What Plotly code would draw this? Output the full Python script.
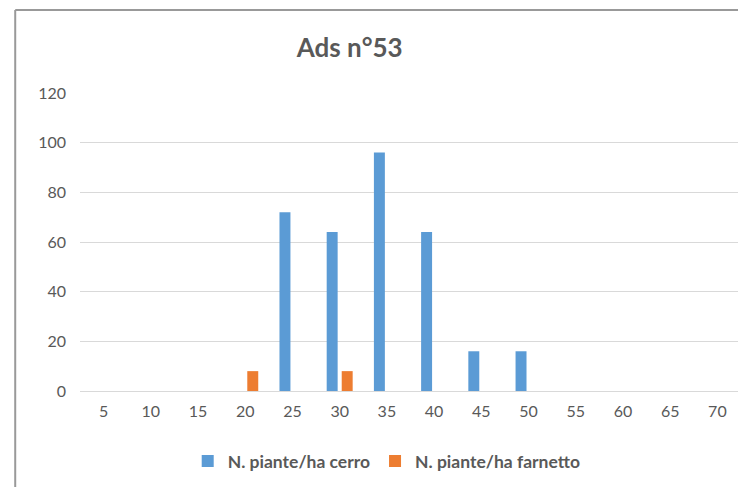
import plotly.graph_objects as go

# diameter classes (cm) and trees per hectare
classi = ["5", "10", "15", "20", "25", "30", "35", "40", "45", "50", "55", "60", "65", "70"]
cerro = [0, 0, 0, 0, 72, 64, 96, 64, 16, 16, 0, 0, 0, 0]
farnetto = [0, 0, 0, 8, 0, 8, 0, 0, 0, 0, 0, 0, 0, 0]
y_ticks = [0, 20, 40, 60, 80, 100, 120]

grey = "#595959"
font_name = "Lato"

fig = go.Figure()
fig.add_trace(go.Bar(x=classi, y=cerro, name="<b>N. piante/ha cerro</b>",
                     marker=dict(color="#5B9BD5", line=dict(width=0))))
fig.add_trace(go.Bar(x=classi, y=farnetto, name="<b>N. piante/ha farnetto</b>",
                     marker=dict(color="#ED7D31", line=dict(width=0))))

# outer chart frame (top and left edges visible in the picture)
fig.add_shape(type="line", xref="paper", yref="paper", x0=-0.098, x1=1.1,
              y0=1.2785, y1=1.2785, line=dict(color="#999999", width=2))
fig.add_shape(type="line", xref="paper", yref="paper", x0=-0.098, x1=-0.098,
              y0=1.2785, y1=-0.5, line=dict(color="#999999", width=2))

fig.update_layout(
    width=746, height=487,
    margin=dict(l=72, r=13, t=85, b=104),
    paper_bgcolor="white", plot_bgcolor="white",
    barmode="group", bargap=0.364, bargroupgap=0.27,
    font=dict(family=font_name, color=grey, size=16),
    title=dict(text="<b>Ads n°53</b>", x=0.458, xanchor="center",
               y=0.918, yanchor="middle",
               font=dict(family=font_name, size=26, color=grey)),
    xaxis=dict(showgrid=False, showline=False, ticks="", ticklabelstandoff=9,
               tickfont=dict(size=16, color=grey)),
    yaxis=dict(range=[0, 120], tickvals=y_ticks, showgrid=True,
               gridcolor="#d9d9d9", gridwidth=1, zeroline=True,
               zerolinecolor="#d9d9d9", zerolinewidth=1, ticks="",
               ticklabelstandoff=13, tickfont=dict(size=16, color=grey)),
    legend=dict(orientation="h", x=0.464, xanchor="center", y=-0.235,
                yanchor="middle", font=dict(size=17.5, color=grey),
                itemwidth=30, bgcolor="rgba(0,0,0,0)"),
)

fig.write_html("out.html")
